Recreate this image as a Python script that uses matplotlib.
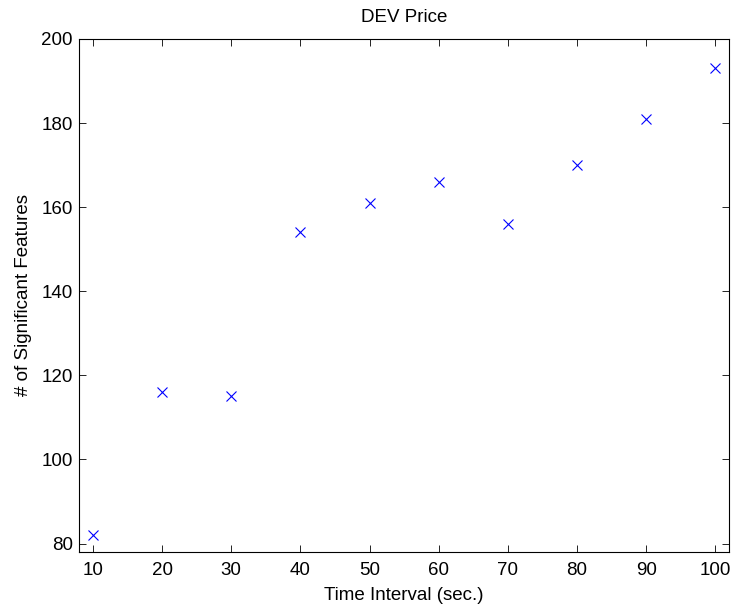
import numpy as np
import matplotlib
matplotlib.use('Agg')
import matplotlib.pyplot as plt

plt.rcParams['font.family'] = ['Liberation Sans', 'DejaVu Sans']

# time interval (sec.) vs number of significant features
intervals = [10, 20, 30, 40, 50, 60, 70, 80, 90, 100]
n_features = [82, 116, 115, 154, 161, 166, 156, 170, 181, 193]

x_ticks = list(range(10, 101, 10))
y_ticks = [80, 100, 120, 140, 160, 180, 200]

fig = plt.figure(figsize=(7.35, 6.07), dpi=100)
ax = fig.add_axes([0.1075, 0.0906, 0.8847, 0.8452])

ax.plot(intervals, n_features, 'x', color=(0, 0, 1), markersize=7, markeredgewidth=0.8)

ax.set_xlim(8, 102)
ax.set_ylim(78, 200)
ax.set_xticks(x_ticks)
ax.set_yticks(y_ticks)
ax.tick_params(direction='in', top=True, right=True, length=5, width=0.6,
               labelsize=13.5)
ax.tick_params(axis='x', pad=7)
ax.tick_params(axis='y', pad=4.5)
for s in ax.spines.values():
    s.set_linewidth(0.8)

ax.set_title('DEV Price', fontsize=13.5, pad=12)
ax.set_xlabel('Time Interval (sec.)', fontsize=13.5, labelpad=6)
ax.set_ylabel('# of Significant Features', fontsize=13.5, labelpad=7)

fig.savefig('out.png', dpi=100)
